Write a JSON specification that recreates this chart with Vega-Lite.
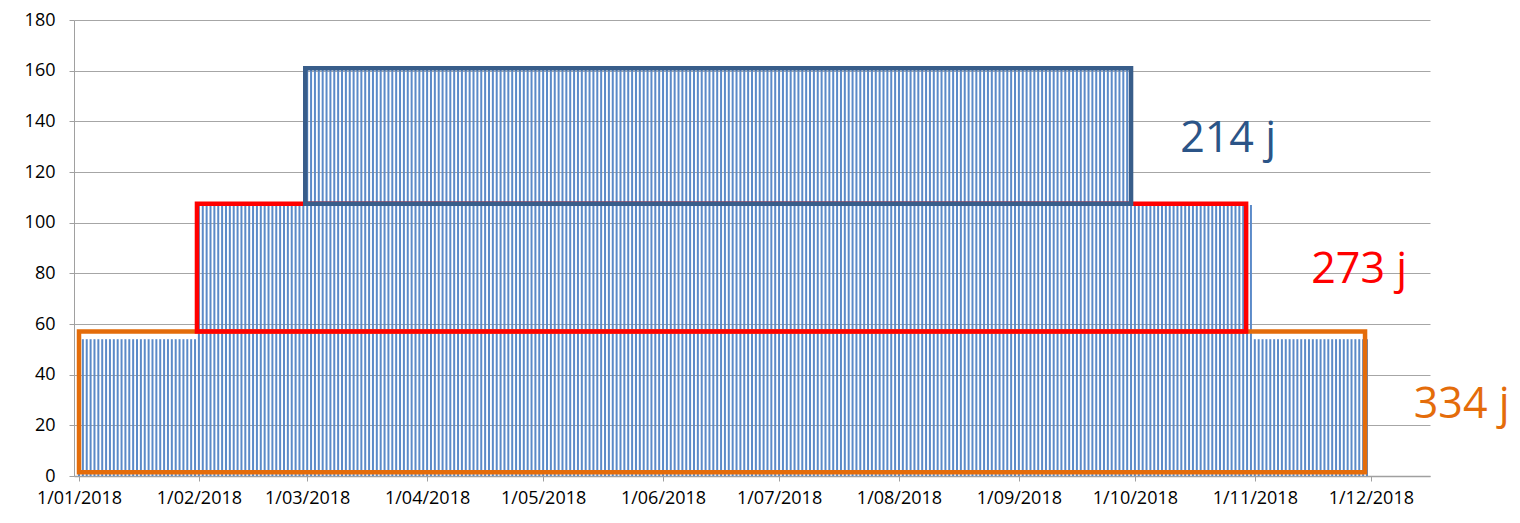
{
  "$schema": "https://vega.github.io/schema/vega-lite/v6.json",
  "width": 1356,
  "height": 456,
  "padding": {"left": 24, "top": 11, "right": 5, "bottom": 5},
  "background": "white",
  "config": {
    "view": {"stroke": null},
    "font": "Open Sans",
    "axis": {
      "labelFont": "Open Sans",
      "labelFontSize": 18,
      "labelColor": "#000000",
      "domainColor": "#a0a0a0",
      "tickColor": "#a0a0a0",
      "gridColor": "#a6a6a6",
      "tickSize": 5,
      "title": null
    }
  },
  "datasets": {
    "days": [
      {"d":"2018-01-01","v":54},{"d":"2018-01-02","v":54},{"d":"2018-01-03","v":54},{"d":"2018-01-04","v":54},{"d":"2018-01-05","v":54},{"d":"2018-01-06","v":54},{"d":"2018-01-07","v":54},{"d":"2018-01-08","v":54},{"d":"2018-01-09","v":54},{"d":"2018-01-10","v":54},{"d":"2018-01-11","v":54},{"d":"2018-01-12","v":54},{"d":"2018-01-13","v":54},{"d":"2018-01-14","v":54},{"d":"2018-01-15","v":54},{"d":"2018-01-16","v":54},{"d":"2018-01-17","v":54},{"d":"2018-01-18","v":54},{"d":"2018-01-19","v":54},{"d":"2018-01-20","v":54},{"d":"2018-01-21","v":54},{"d":"2018-01-22","v":54},{"d":"2018-01-23","v":54},{"d":"2018-01-24","v":54},{"d":"2018-01-25","v":54},{"d":"2018-01-26","v":54},{"d":"2018-01-27","v":54},{"d":"2018-01-28","v":54},{"d":"2018-01-29","v":54},{"d":"2018-01-30","v":54},{"d":"2018-01-31","v":54},
      {"d":"2018-02-01","v":107},{"d":"2018-02-02","v":107},{"d":"2018-02-03","v":107},{"d":"2018-02-04","v":107},{"d":"2018-02-05","v":107},{"d":"2018-02-06","v":107},{"d":"2018-02-07","v":107},{"d":"2018-02-08","v":107},{"d":"2018-02-09","v":107},{"d":"2018-02-10","v":107},{"d":"2018-02-11","v":107},{"d":"2018-02-12","v":107},{"d":"2018-02-13","v":107},{"d":"2018-02-14","v":107},{"d":"2018-02-15","v":107},{"d":"2018-02-16","v":107},{"d":"2018-02-17","v":107},{"d":"2018-02-18","v":107},{"d":"2018-02-19","v":107},{"d":"2018-02-20","v":107},{"d":"2018-02-21","v":107},{"d":"2018-02-22","v":107},{"d":"2018-02-23","v":107},{"d":"2018-02-24","v":107},{"d":"2018-02-25","v":107},{"d":"2018-02-26","v":107},{"d":"2018-02-27","v":107},{"d":"2018-02-28","v":107},
      {"d":"2018-03-01","v":161},{"d":"2018-03-02","v":161},{"d":"2018-03-03","v":161},{"d":"2018-03-04","v":161},{"d":"2018-03-05","v":161},{"d":"2018-03-06","v":161},{"d":"2018-03-07","v":161},{"d":"2018-03-08","v":161},{"d":"2018-03-09","v":161},{"d":"2018-03-10","v":161},{"d":"2018-03-11","v":161},{"d":"2018-03-12","v":161},{"d":"2018-03-13","v":161},{"d":"2018-03-14","v":161},{"d":"2018-03-15","v":161},{"d":"2018-03-16","v":161},{"d":"2018-03-17","v":161},{"d":"2018-03-18","v":161},{"d":"2018-03-19","v":161},{"d":"2018-03-20","v":161},{"d":"2018-03-21","v":161},{"d":"2018-03-22","v":161},{"d":"2018-03-23","v":161},{"d":"2018-03-24","v":161},{"d":"2018-03-25","v":161},{"d":"2018-03-26","v":161},{"d":"2018-03-27","v":161},{"d":"2018-03-28","v":161},{"d":"2018-03-29","v":161},{"d":"2018-03-30","v":161},{"d":"2018-03-31","v":161},
      {"d":"2018-04-01","v":161},{"d":"2018-04-02","v":161},{"d":"2018-04-03","v":161},{"d":"2018-04-04","v":161},{"d":"2018-04-05","v":161},{"d":"2018-04-06","v":161},{"d":"2018-04-07","v":161},{"d":"2018-04-08","v":161},{"d":"2018-04-09","v":161},{"d":"2018-04-10","v":161},{"d":"2018-04-11","v":161},{"d":"2018-04-12","v":161},{"d":"2018-04-13","v":161},{"d":"2018-04-14","v":161},{"d":"2018-04-15","v":161},{"d":"2018-04-16","v":161},{"d":"2018-04-17","v":161},{"d":"2018-04-18","v":161},{"d":"2018-04-19","v":161},{"d":"2018-04-20","v":161},{"d":"2018-04-21","v":161},{"d":"2018-04-22","v":161},{"d":"2018-04-23","v":161},{"d":"2018-04-24","v":161},{"d":"2018-04-25","v":161},{"d":"2018-04-26","v":161},{"d":"2018-04-27","v":161},{"d":"2018-04-28","v":161},{"d":"2018-04-29","v":161},{"d":"2018-04-30","v":161},
      {"d":"2018-05-01","v":161},{"d":"2018-05-02","v":161},{"d":"2018-05-03","v":161},{"d":"2018-05-04","v":161},{"d":"2018-05-05","v":161},{"d":"2018-05-06","v":161},{"d":"2018-05-07","v":161},{"d":"2018-05-08","v":161},{"d":"2018-05-09","v":161},{"d":"2018-05-10","v":161},{"d":"2018-05-11","v":161},{"d":"2018-05-12","v":161},{"d":"2018-05-13","v":161},{"d":"2018-05-14","v":161},{"d":"2018-05-15","v":161},{"d":"2018-05-16","v":161},{"d":"2018-05-17","v":161},{"d":"2018-05-18","v":161},{"d":"2018-05-19","v":161},{"d":"2018-05-20","v":161},{"d":"2018-05-21","v":161},{"d":"2018-05-22","v":161},{"d":"2018-05-23","v":161},{"d":"2018-05-24","v":161},{"d":"2018-05-25","v":161},{"d":"2018-05-26","v":161},{"d":"2018-05-27","v":161},{"d":"2018-05-28","v":161},{"d":"2018-05-29","v":161},{"d":"2018-05-30","v":161},{"d":"2018-05-31","v":161},
      {"d":"2018-06-01","v":161},{"d":"2018-06-02","v":161},{"d":"2018-06-03","v":161},{"d":"2018-06-04","v":161},{"d":"2018-06-05","v":161},{"d":"2018-06-06","v":161},{"d":"2018-06-07","v":161},{"d":"2018-06-08","v":161},{"d":"2018-06-09","v":161},{"d":"2018-06-10","v":161},{"d":"2018-06-11","v":161},{"d":"2018-06-12","v":161},{"d":"2018-06-13","v":161},{"d":"2018-06-14","v":161},{"d":"2018-06-15","v":161},{"d":"2018-06-16","v":161},{"d":"2018-06-17","v":161},{"d":"2018-06-18","v":161},{"d":"2018-06-19","v":161},{"d":"2018-06-20","v":161},{"d":"2018-06-21","v":161},{"d":"2018-06-22","v":161},{"d":"2018-06-23","v":161},{"d":"2018-06-24","v":161},{"d":"2018-06-25","v":161},{"d":"2018-06-26","v":161},{"d":"2018-06-27","v":161},{"d":"2018-06-28","v":161},{"d":"2018-06-29","v":161},{"d":"2018-06-30","v":161},
      {"d":"2018-07-01","v":161},{"d":"2018-07-02","v":161},{"d":"2018-07-03","v":161},{"d":"2018-07-04","v":161},{"d":"2018-07-05","v":161},{"d":"2018-07-06","v":161},{"d":"2018-07-07","v":161},{"d":"2018-07-08","v":161},{"d":"2018-07-09","v":161},{"d":"2018-07-10","v":161},{"d":"2018-07-11","v":161},{"d":"2018-07-12","v":161},{"d":"2018-07-13","v":161},{"d":"2018-07-14","v":161},{"d":"2018-07-15","v":161},{"d":"2018-07-16","v":161},{"d":"2018-07-17","v":161},{"d":"2018-07-18","v":161},{"d":"2018-07-19","v":161},{"d":"2018-07-20","v":161},{"d":"2018-07-21","v":161},{"d":"2018-07-22","v":161},{"d":"2018-07-23","v":161},{"d":"2018-07-24","v":161},{"d":"2018-07-25","v":161},{"d":"2018-07-26","v":161},{"d":"2018-07-27","v":161},{"d":"2018-07-28","v":161},{"d":"2018-07-29","v":161},{"d":"2018-07-30","v":161},{"d":"2018-07-31","v":161},
      {"d":"2018-08-01","v":161},{"d":"2018-08-02","v":161},{"d":"2018-08-03","v":161},{"d":"2018-08-04","v":161},{"d":"2018-08-05","v":161},{"d":"2018-08-06","v":161},{"d":"2018-08-07","v":161},{"d":"2018-08-08","v":161},{"d":"2018-08-09","v":161},{"d":"2018-08-10","v":161},{"d":"2018-08-11","v":161},{"d":"2018-08-12","v":161},{"d":"2018-08-13","v":161},{"d":"2018-08-14","v":161},{"d":"2018-08-15","v":161},{"d":"2018-08-16","v":161},{"d":"2018-08-17","v":161},{"d":"2018-08-18","v":161},{"d":"2018-08-19","v":161},{"d":"2018-08-20","v":161},{"d":"2018-08-21","v":161},{"d":"2018-08-22","v":161},{"d":"2018-08-23","v":161},{"d":"2018-08-24","v":161},{"d":"2018-08-25","v":161},{"d":"2018-08-26","v":161},{"d":"2018-08-27","v":161},{"d":"2018-08-28","v":161},{"d":"2018-08-29","v":161},{"d":"2018-08-30","v":161},{"d":"2018-08-31","v":161},
      {"d":"2018-09-01","v":161},{"d":"2018-09-02","v":161},{"d":"2018-09-03","v":161},{"d":"2018-09-04","v":161},{"d":"2018-09-05","v":161},{"d":"2018-09-06","v":161},{"d":"2018-09-07","v":161},{"d":"2018-09-08","v":161},{"d":"2018-09-09","v":161},{"d":"2018-09-10","v":161},{"d":"2018-09-11","v":161},{"d":"2018-09-12","v":161},{"d":"2018-09-13","v":161},{"d":"2018-09-14","v":161},{"d":"2018-09-15","v":161},{"d":"2018-09-16","v":161},{"d":"2018-09-17","v":161},{"d":"2018-09-18","v":161},{"d":"2018-09-19","v":161},{"d":"2018-09-20","v":161},{"d":"2018-09-21","v":161},{"d":"2018-09-22","v":161},{"d":"2018-09-23","v":161},{"d":"2018-09-24","v":161},{"d":"2018-09-25","v":161},{"d":"2018-09-26","v":161},{"d":"2018-09-27","v":161},{"d":"2018-09-28","v":161},{"d":"2018-09-29","v":161},{"d":"2018-09-30","v":161},
      {"d":"2018-10-01","v":107},{"d":"2018-10-02","v":107},{"d":"2018-10-03","v":107},{"d":"2018-10-04","v":107},{"d":"2018-10-05","v":107},{"d":"2018-10-06","v":107},{"d":"2018-10-07","v":107},{"d":"2018-10-08","v":107},{"d":"2018-10-09","v":107},{"d":"2018-10-10","v":107},{"d":"2018-10-11","v":107},{"d":"2018-10-12","v":107},{"d":"2018-10-13","v":107},{"d":"2018-10-14","v":107},{"d":"2018-10-15","v":107},{"d":"2018-10-16","v":107},{"d":"2018-10-17","v":107},{"d":"2018-10-18","v":107},{"d":"2018-10-19","v":107},{"d":"2018-10-20","v":107},{"d":"2018-10-21","v":107},{"d":"2018-10-22","v":107},{"d":"2018-10-23","v":107},{"d":"2018-10-24","v":107},{"d":"2018-10-25","v":107},{"d":"2018-10-26","v":107},{"d":"2018-10-27","v":107},{"d":"2018-10-28","v":107},{"d":"2018-10-29","v":107},{"d":"2018-10-30","v":107},{"d":"2018-10-31","v":107},
      {"d":"2018-11-01","v":54},{"d":"2018-11-02","v":54},{"d":"2018-11-03","v":54},{"d":"2018-11-04","v":54},{"d":"2018-11-05","v":54},{"d":"2018-11-06","v":54},{"d":"2018-11-07","v":54},{"d":"2018-11-08","v":54},{"d":"2018-11-09","v":54},{"d":"2018-11-10","v":54},{"d":"2018-11-11","v":54},{"d":"2018-11-12","v":54},{"d":"2018-11-13","v":54},{"d":"2018-11-14","v":54},{"d":"2018-11-15","v":54},{"d":"2018-11-16","v":54},{"d":"2018-11-17","v":54},{"d":"2018-11-18","v":54},{"d":"2018-11-19","v":54},{"d":"2018-11-20","v":54},{"d":"2018-11-21","v":54},{"d":"2018-11-22","v":54},{"d":"2018-11-23","v":54},{"d":"2018-11-24","v":54},{"d":"2018-11-25","v":54},{"d":"2018-11-26","v":54},{"d":"2018-11-27","v":54},{"d":"2018-11-28","v":54},{"d":"2018-11-29","v":54},{"d":"2018-11-30","v":54}
    ],
    "periods": [
      {"name":"334 j","start":"2018-01-01","end":"2018-11-29T12:00:00Z","lo":1.5,"hi":57,"ld":"2018-12-12T02:00:00Z","lv":23},
      {"name":"273 j","start":"2018-01-31T12:00:00Z","end":"2018-10-29T18:00:00Z","lo":57,"hi":107.5,"ld":"2018-11-15T14:00:00Z","lv":76},
      {"name":"214 j","start":"2018-02-28T12:00:00Z","end":"2018-09-30","lo":107.5,"hi":161,"ld":"2018-10-12T17:00:00Z","lv":128}
    ]
  },
  "layer": [
    {
      "data": {"name": "days"},
      "mark": {"type": "bar", "width": 2, "color": "#5b8ac8"},
      "encoding": {
        "x": {
          "field": "d", "type": "temporal",
          "scale": {"type": "utc", "domain": [{"year": 2018, "month": 1, "date": 1, "utc": true}, {"year": 2018, "month": 12, "date": 15, "utc": true}]},
          "axis": {"format": "%-d/%m/%Y", "tickCount": {"interval": "month", "step": 1}, "grid": false, "labelFlush": false, "labelOverlap": false, "labelPadding": 8, "domainWidth": 1.5}
        },
        "y": {
          "field": "v", "type": "quantitative",
          "scale": {"domain": [0, 180], "nice": false},
          "axis": {"values": [0, 20, 40, 60, 80, 100, 120, 140, 160, 180], "grid": true, "labelPadding": 14}
        }
      }
    },
    {
      "data": {"name": "periods"},
      "mark": {"type": "rect", "fillOpacity": 0, "strokeWidth": 4.5, "strokeJoin": "miter"},
      "encoding": {
        "x": {"field": "start", "type": "temporal"},
        "x2": {"field": "end"},
        "y": {"field": "lo", "type": "quantitative"},
        "y2": {"field": "hi"},
        "stroke": {"field": "name", "type": "nominal", "scale": {"domain": ["334 j", "273 j", "214 j"], "range": ["#e46c0a", "#ff0000", "#385d8a"]}, "legend": null}
      }
    },
    {
      "data": {"name": "periods"},
      "mark": {"type": "text", "align": "left", "baseline": "alphabetic", "fontSize": 43, "font": "Open Sans"},
      "encoding": {
        "x": {"field": "ld", "type": "temporal"},
        "y": {"field": "lv", "type": "quantitative"},
        "text": {"field": "name"},
        "color": {"field": "name", "type": "nominal", "scale": {"domain": ["334 j", "273 j", "214 j"], "range": ["#e46c0a", "#ff0000", "#2b5487"]}, "legend": null}
      }
    }
  ]
}
